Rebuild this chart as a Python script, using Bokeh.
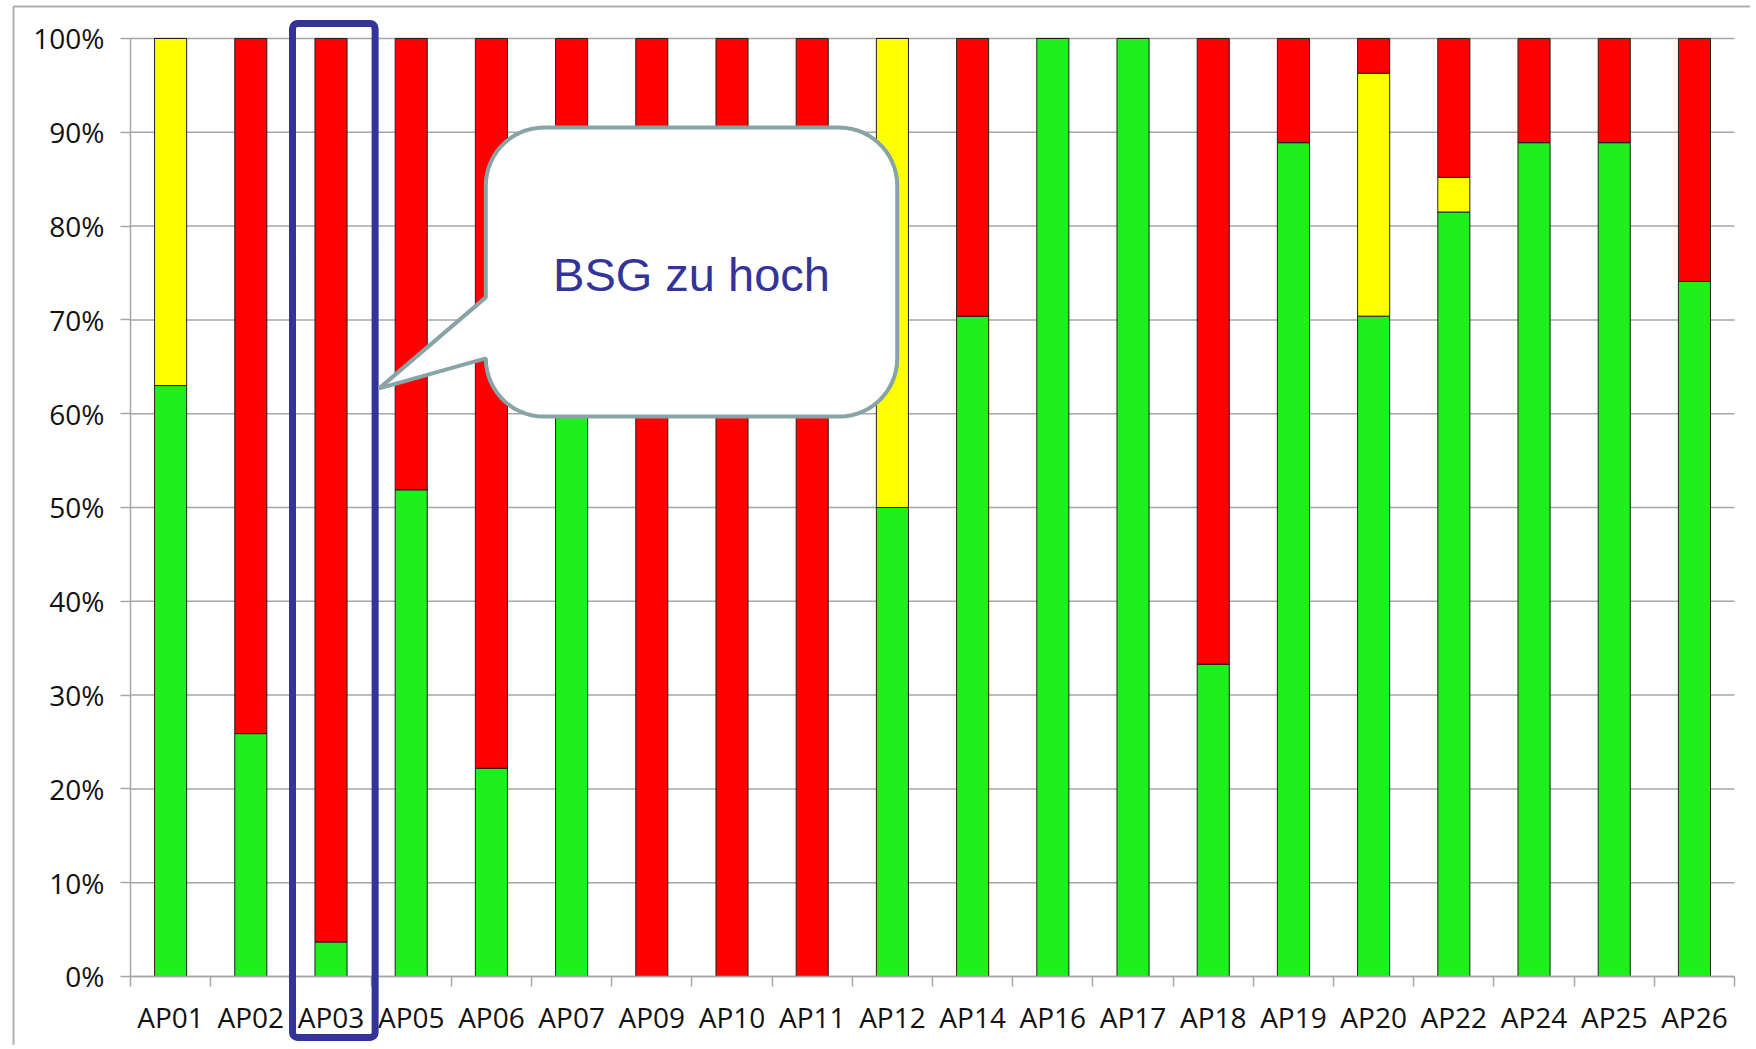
import numpy as np
from bokeh.plotting import figure
from bokeh.models import (ColumnDataSource, Range1d, FixedTicker, PrintfTickFormatter,
                          BoxAnnotation, PolyAnnotation, Label)
from bokeh.embed import file_html
from bokeh.resources import INLINE

# ---------------- data ----------------
categories = ["AP01", "AP02", "AP03", "AP05", "AP06", "AP07", "AP09", "AP10", "AP11", "AP12",
              "AP14", "AP16", "AP17", "AP18", "AP19", "AP20", "AP22", "AP24", "AP25", "AP26"]
green = [63.0, 25.9, 3.7, 51.9, 22.2, 66.7, 0.0, 0.0, 0.0, 50.0,
         70.4, 100.0, 100.0, 33.3, 88.9, 70.4, 81.5, 88.9, 88.9, 74.1]
yellow = [37.0, 0.0, 0.0, 0.0, 0.0, 0.0, 0.0, 0.0, 0.0, 50.0,
          0.0, 0.0, 0.0, 0.0, 0.0, 25.9, 3.7, 0.0, 0.0, 0.0]
red = [0.0, 74.1, 96.3, 48.1, 77.8, 33.3, 100.0, 100.0, 100.0, 0.0,
       29.6, 0.0, 0.0, 66.7, 11.1, 3.7, 14.8, 11.1, 11.1, 25.9]
y_ticks = [0, 10, 20, 30, 40, 50, 60, 70, 80, 90, 100]
callout_text = "BSG zu hoch"
highlight = "AP03"

n = len(categories)
centers = list(np.arange(n) + 0.5)
bounds = list(np.arange(n + 1).astype(float))

source = ColumnDataSource(dict(x=centers, green=green, yellow=yellow, red=red))
grid_src = ColumnDataSource(dict(y=y_ticks, x0=[0.0] * len(y_ticks), x1=[float(n)] * len(y_ticks)))

GRID = "#a6a6a6"
FONT = "Open Sans"

W, H = 1750, 1045
p = figure(width=W, height=H, output_backend="svg", toolbar_location=None,
           x_range=Range1d(-1.621, 20.199), y_range=Range1d(-7.356, 104.05),
           min_border_left=0, min_border_right=0, min_border_top=0, min_border_bottom=0)
p.outline_line_color = None
p.background_fill_color = "white"
p.border_fill_color = "white"

# horizontal gridlines restricted to the category area
p.xgrid.grid_line_color = None
p.ygrid.grid_line_color = None
p.segment(x0="x0", x1="x1", y0="y", y1="y", source=grid_src,
          line_color=GRID, line_width=1.5, level="underlay")

p.vbar_stack(["green", "yellow", "red"], x="x", width=0.4, source=source,
             fill_color=["#1ef01e", "#ffff00", "#ff0000"],
             line_color="#202020", line_width=1)

# y axis
p.yaxis.fixed_location = 0
p.yaxis.bounds = (0, 100)
p.yaxis.ticker = FixedTicker(ticks=y_ticks)
p.yaxis.formatter = PrintfTickFormatter(format="%d%%")
p.yaxis.axis_line_color = GRID
p.yaxis.axis_line_width = 1.5
p.yaxis.major_tick_line_color = GRID
p.yaxis.major_tick_line_width = 1.5
p.yaxis.major_tick_out = 10
p.yaxis.major_tick_in = 0
p.yaxis.minor_tick_line_color = None
p.yaxis.major_label_text_font = FONT
p.yaxis.major_label_text_font_size = "28px"
p.yaxis.major_label_text_color = "#111111"
p.yaxis.major_label_standoff = 16

# x axis
p.xaxis.fixed_location = 0
p.xaxis.bounds = (0, n)
p.xaxis.ticker = FixedTicker(ticks=centers, minor_ticks=bounds)
p.xaxis.major_label_overrides = {c: lab for c, lab in zip(centers, categories)}
p.xaxis.axis_line_color = GRID
p.xaxis.axis_line_width = 1.5
p.xaxis.major_tick_line_color = None
p.xaxis.major_tick_out = 0
p.xaxis.major_tick_in = 0
p.xaxis.minor_tick_line_color = GRID
p.xaxis.minor_tick_line_width = 1.5
p.xaxis.minor_tick_out = 10
p.xaxis.minor_tick_in = 0
p.xaxis.major_label_text_font = FONT
p.xaxis.major_label_text_font_size = "28px"
p.xaxis.major_label_text_color = "#111111"
p.xaxis.major_label_standoff = 12

# outer chart frame (only top/left visible)
p.add_layout(BoxAnnotation(left=-1.459, right=n + 10, top=103.4, bottom=-40,
                           fill_alpha=0, line_color="#b0b0b0", line_alpha=1, line_width=2))

# highlight rectangle around AP03
hi = categories.index(highlight)
p.add_layout(BoxAnnotation(left=hi + 0.02, right=hi + 1.05, top=101.6, bottom=-6.5,
                           fill_alpha=0, line_color="#333399", line_alpha=1,
                           line_width=7, border_radius=5))

# speech-bubble callout
L, R, T, B = 4.43, 9.56, 90.5, 59.7
rx, ry = 0.72, 6.2
tip = (3.10, 62.7)
attach_top = 72.4


def arc(cx, cy, a0, a1, k=16):
    t = np.radians(np.linspace(a0, a1, k))
    return list(cx + rx * np.cos(t)), list(cy + ry * np.sin(t))


xs, ys = [L], [attach_top]
for (cx, cy, a0, a1) in [(L + rx, T - ry, 180, 90), (R - rx, T - ry, 90, 0),
                         (R - rx, B + ry, 0, -90), (L + rx, B + ry, -90, -180)]:
    ax, ay = arc(cx, cy, a0, a1)
    xs += ax
    ys += ay
xs += [tip[0]]
ys += [tip[1]]

p.add_layout(PolyAnnotation(xs=xs, ys=ys, fill_color="white", fill_alpha=1,
                            line_color="#88a4a6", line_alpha=1, line_width=4))
p.add_layout(Label(x=(L + R) / 2, y=74.8, text=callout_text, text_align="center",
                   text_baseline="middle", text_font="Liberation Sans",
                   text_font_size="47px", text_color="#333399"))

open("out.html", "w").write(file_html(p, INLINE))
